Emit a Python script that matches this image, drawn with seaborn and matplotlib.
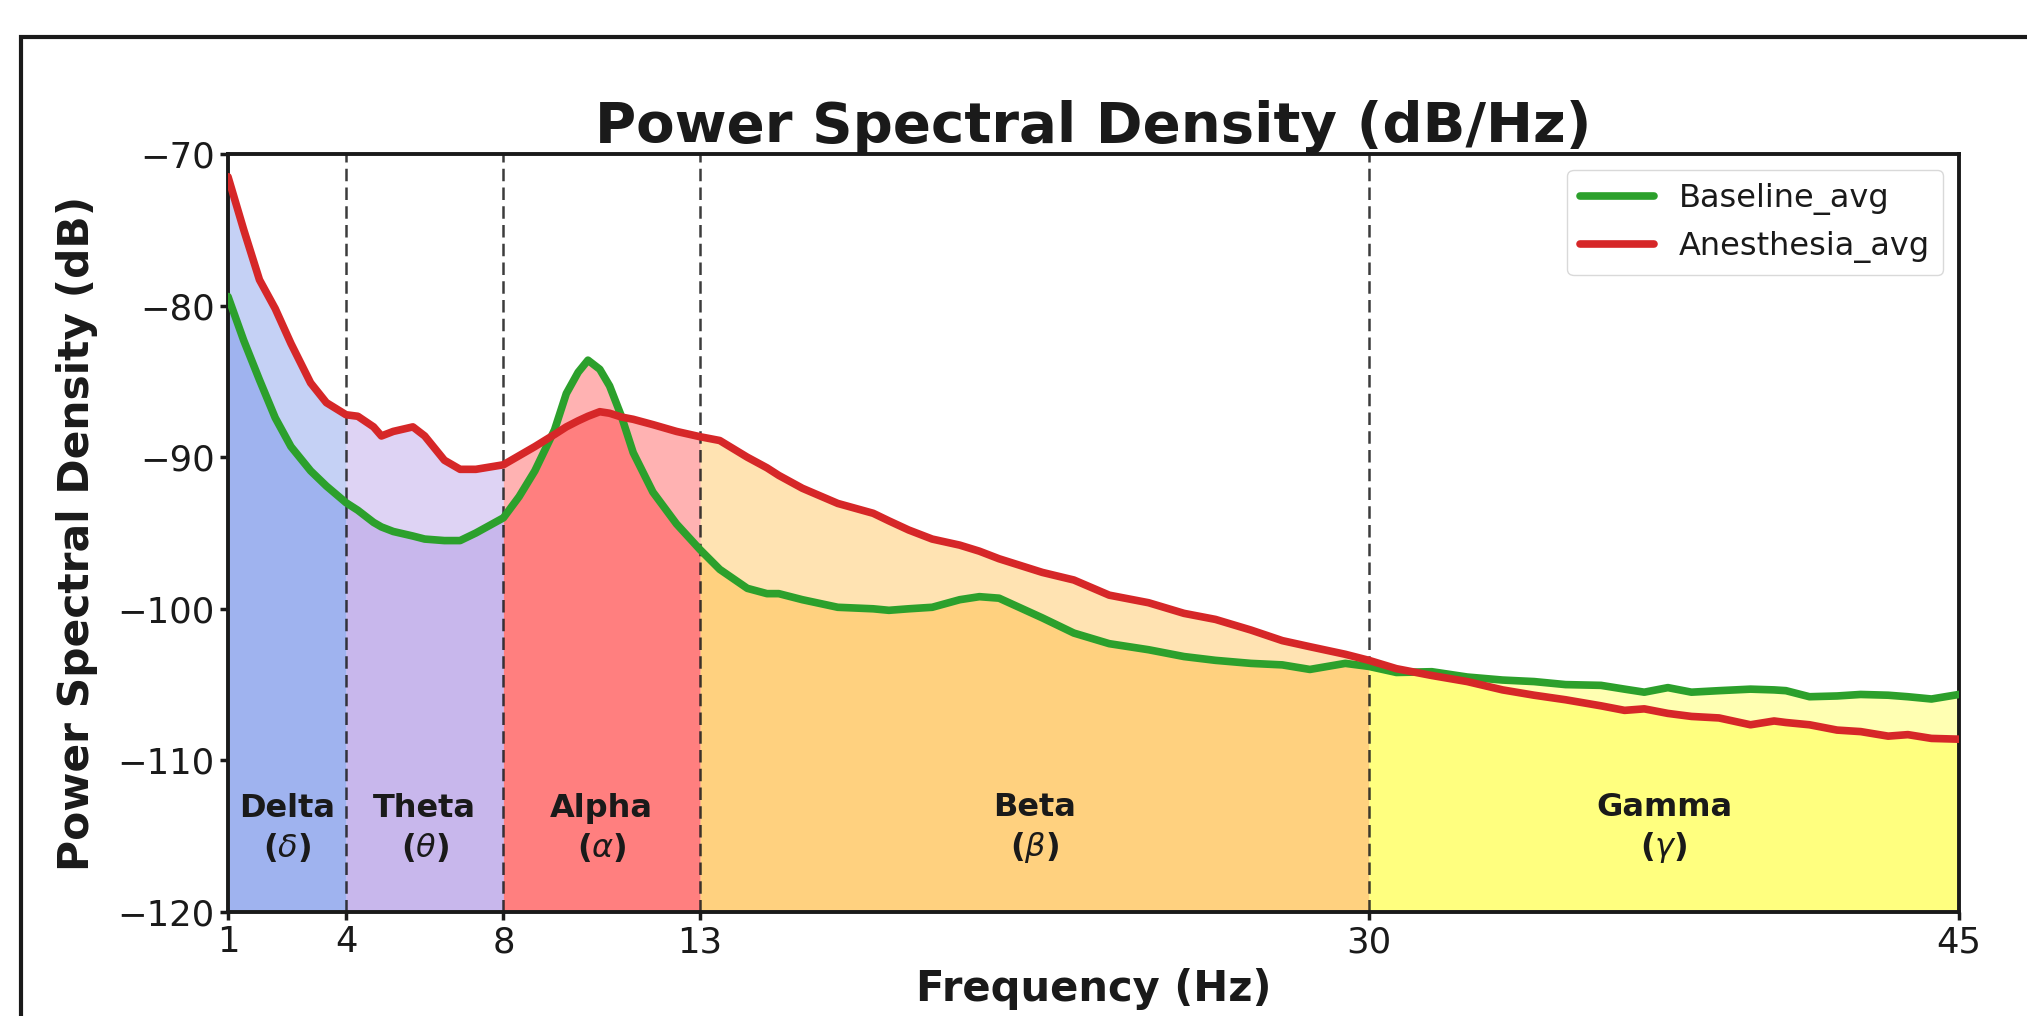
import numpy as np
import pandas as pd
import matplotlib
matplotlib.use("Agg")
import matplotlib.pyplot as plt
import seaborn as sns
from matplotlib.patches import Rectangle

# values (Hz, dB)
FREQS = [1.0, 1.4, 1.8, 2.2, 2.6, 3.1, 3.5, 4.0, 4.3, 4.7, 4.9, 5.2, 5.7, 6.0,
         6.5, 6.9, 7.3, 8.0, 8.4, 8.8, 9.3, 9.6, 9.9, 10.15, 10.45, 10.7, 11.0,
         11.3, 11.8, 12.4, 13.0, 13.5, 14.2, 14.7, 15.0, 15.6, 16.5, 17.4, 17.8,
         18.3, 18.9, 19.6, 20.1, 20.6, 21.7, 22.5, 23.4, 24.4, 25.3, 26.1, 27.0,
         27.8, 28.5, 29.4, 30.0, 30.7, 31.6, 32.5, 33.4, 34.2, 35.0, 35.9, 36.5,
         37.0, 37.6, 38.2, 38.9, 39.7, 40.3, 40.6, 41.2, 41.9, 42.5, 43.2, 43.7,
         44.3, 45.0]
BASELINE = [-79.4, -82.3, -84.9, -87.4, -89.3, -90.9, -91.9, -93.0, -93.5, -94.3,
            -94.6, -94.9, -95.2, -95.4, -95.5, -95.5, -95.0, -94.0, -92.6, -90.9,
            -88.2, -85.8, -84.4, -83.6, -84.2, -85.3, -87.3, -89.7, -92.3, -94.4,
            -96.1, -97.4, -98.65, -99.0, -99.0, -99.4, -99.9, -100.0, -100.1, -100.0,
            -99.9, -99.4, -99.2, -99.3, -100.6, -101.6, -102.3, -102.7, -103.15,
            -103.4, -103.6, -103.7, -104.0, -103.6, -103.8, -104.2, -104.15, -104.5,
            -104.7, -104.8, -105.0, -105.05, -105.3, -105.5, -105.2, -105.5, -105.4,
            -105.3, -105.35, -105.4, -105.8, -105.75, -105.65, -105.7, -105.8,
            -105.95, -105.65]
ANESTHESIA = [-71.5, -75.0, -78.3, -80.2, -82.5, -85.1, -86.4, -87.2, -87.3, -88.0,
              -88.6, -88.3, -88.0, -88.6, -90.2, -90.8, -90.8, -90.5, -89.9, -89.3,
              -88.5, -88.0, -87.6, -87.3, -87.0, -87.1, -87.35, -87.5, -87.85, -88.3,
              -88.65, -88.9, -90.0, -90.7, -91.2, -92.05, -93.05, -93.7, -94.2, -94.8,
              -95.4, -95.8, -96.2, -96.7, -97.6, -98.1, -99.1, -99.6, -100.3, -100.7,
              -101.4, -102.1, -102.5, -103.0, -103.4, -103.95, -104.4, -104.8, -105.35,
              -105.7, -106.0, -106.4, -106.7, -106.6, -106.9, -107.1, -107.2, -107.65,
              -107.4, -107.5, -107.65, -108.0, -108.1, -108.4, -108.3, -108.55, -108.6]

BAND_NAMES = ["Delta", "Theta", "Alpha", "Beta", "Gamma"]
BAND_SYMBOLS = [r"\delta", r"\theta", r"\alpha", r"\beta", r"\gamma"]
BAND_EDGES = [1, 4, 8, 13, 30, 45]
BAND_COLORS = ["royalblue", "mediumpurple", "red", "orange", "yellow"]

sns.set_theme(style="ticks")
plt.rcParams["font.family"] = ["DejaVu Sans"]
plt.rcParams.update({"text.color": "k", "axes.labelcolor": "k",
                     "xtick.color": "k", "ytick.color": "k"})

W, H = 2027, 1016
fig = plt.figure(figsize=(W / 100, H / 100), dpi=100)
ax = fig.add_axes([228 / W, 1 - 912 / H, (1959 - 228) / W, (912 - 154) / H])

f = np.array(FREQS)
b = np.array(BASELINE)
a = np.array(ANESTHESIA)
low = np.minimum(a, b)
high = np.maximum(a, b)

for i, (name, sym, col) in enumerate(zip(BAND_NAMES, BAND_SYMBOLS, BAND_COLORS)):
    lo_f, hi_f = BAND_EDGES[i], BAND_EDGES[i + 1]
    m = (f >= lo_f) & (f <= hi_f)
    ax.fill_between(f[m], -120, low[m], color=col, alpha=0.5, lw=0, zorder=1)
    ax.fill_between(f[m], low[m], high[m], color=col, alpha=0.3, lw=0, zorder=1)
    ax.text((lo_f + hi_f) / 2, -114.5, f"{name}\n(${sym}$)", ha="center",
            va="center", fontsize=23, fontweight="bold", linespacing=1.25, zorder=4)

for edge in BAND_EDGES[1:-1]:
    ax.axvline(edge, color="k", ls="--", dashes=(5, 2.5), lw=1.8, alpha=0.85, zorder=2)

df = pd.DataFrame({
    "Frequency": FREQS * 2,
    "PSD": BASELINE + ANESTHESIA,
    "Condition": ["Baseline_avg"] * len(FREQS) + ["Anesthesia_avg"] * len(FREQS),
})
sns.lineplot(data=df, x="Frequency", y="PSD", hue="Condition",
             palette={"Baseline_avg": "tab:green", "Anesthesia_avg": "tab:red"},
             linewidth=5.5, ax=ax, zorder=3)

handles, labels = ax.get_legend_handles_labels()
ax.legend(handles, labels, loc="upper right", fontsize=23, handlelength=2.3,
          frameon=True, fancybox=True, edgecolor="0.85", framealpha=1)

ax.set_xlim(1, 45)
ax.set_ylim(-120, -70)
ax.set_xticks(BAND_EDGES)
ax.set_yticks([-120, -110, -100, -90, -80, -70])
ax.tick_params(labelsize=25.5, width=2.5, length=6, color="k")
for sp in ax.spines.values():
    sp.set_visible(True)
    sp.set_linewidth(2.8)
    sp.set_color("k")

ax.set_title("Power Spectral Density (dB/Hz)", fontsize=40.5, fontweight="bold", pad=9)
ax.set_xlabel("Frequency (Hz)", fontsize=30, fontweight="bold", labelpad=6)
ax.set_ylabel("Power Spectral Density (dB)", fontsize=30.5, fontweight="bold", labelpad=14)

# outer frame of the screenshot
frame = Rectangle((21 / W, -0.5), 1.5, (1 - 37 / H) + 0.5, fill=False, lw=3,
                  edgecolor="k", transform=fig.transFigure, clip_on=False)
fig.patches.append(frame)

fig.savefig("out.png", dpi=100)
